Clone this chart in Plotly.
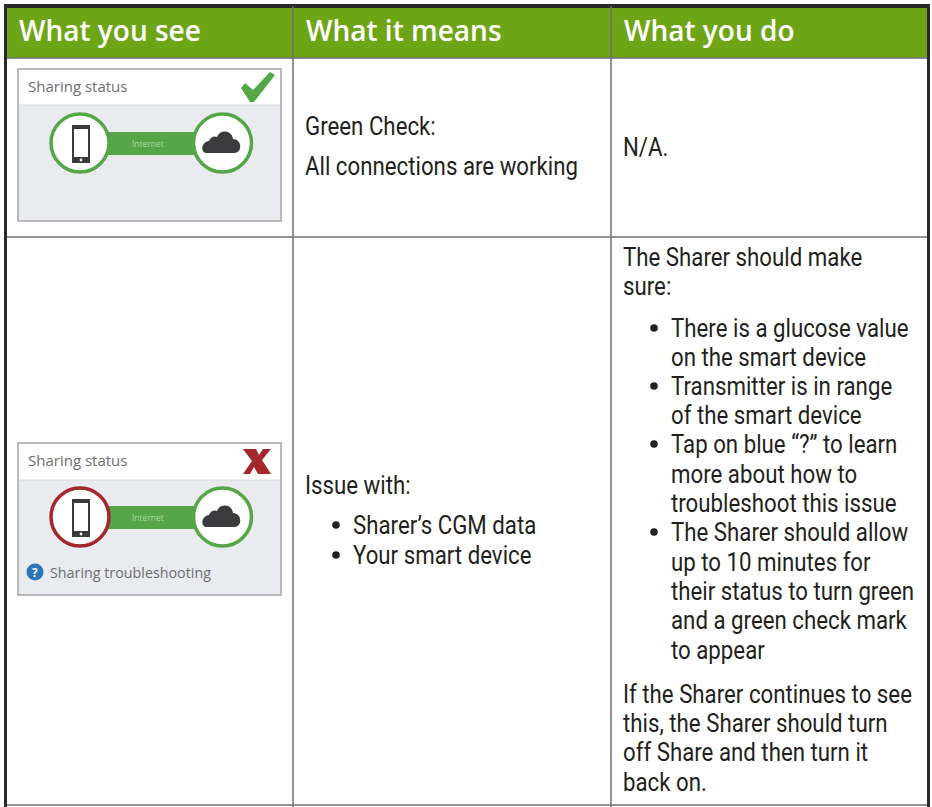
import plotly.graph_objects as go

W, H = 932, 807
HEADERS = ["What you see", "What it means", "What you do"]
HEADER_X = [17, 304, 622]
COL_LINES = [293, 611]
ROW_LINES = [58, 237, 805]

# (x, y, text)
MEANS = [(303, 126, "Green Check:"), (303, 166, "All connections are working"),
         (303, 485, "Issue with:"), (351, 525, "Sharer’s CGM data"), (351, 555, "Your smart device")]
MEANS_BULLETS = [(336, 525), (336, 555)]
DO = [(621, 147, "N/A."), (621, 257, "The Sharer should make"), (621, 286, "sure:"),
      (669, 328, "There is a glucose value"), (669, 357, "on the smart device"),
      (669, 386, "Transmitter is in range"), (669, 415, "of the smart device"),
      (669, 444, "Tap on blue “?” to learn"), (669, 474, "more about how to"),
      (669, 503, "troubleshoot this issue"), (669, 532, "The Sharer should allow"),
      (669, 562, "up to 10 minutes for"), (669, 591, "their status to turn green"),
      (669, 620, "and a green check mark"), (669, 650, "to appear"),
      (621, 694, "If the Sharer continues to see"), (621, 723, "this, the Sharer should turn"),
      (621, 752, "off Share and then turn it"), (621, 782, "back on.")]
DO_BULLETS = [(654, 328), (654, 386), (654, 444), (654, 532)]

GREEN = "#6ea516"
ICON_GREEN = "#54a646"
RED = "#a3272b"
PANEL = "#e9ebef"
INK = "#231f20"
BORDER = "#2a2829"
LINE = "#6f6f6f"
BODY = "Roboto"

shapes, ann = [], []

def rect(x0, y0, x1, y1, fill, line=None, lw=0):
    shapes.append(dict(type="rect", x0=x0, y0=y0, x1=x1, y1=y1, fillcolor=fill,
                       line=dict(color=line or fill, width=lw), layer="above"))

def circle(cx, cy, r, fill, line=None, lw=0):
    shapes.append(dict(type="circle", x0=cx-r, y0=cy-r, x1=cx+r, y1=cy+r, fillcolor=fill,
                       line=dict(color=line or fill, width=lw), layer="above"))

def path(d, fill):
    shapes.append(dict(type="path", path=d, fillcolor=fill, line=dict(width=0), layer="above"))

def text(x, y, s, size, color=INK, family=BODY, anchor="left", weight=None):
    ann.append(dict(x=x, y=y, text=s, showarrow=False, xanchor=anchor, yanchor="middle",
                    align="left", font=dict(size=size, color=color, family=family, weight=weight)))

# table frame
rect(7, 8, 927, 58, GREEN)
rect(4, 4, 930, 8, BORDER)
rect(4, 4, 7, 807, BORDER)
rect(927, 4, 930, 807, BORDER)
for x in COL_LINES:
    shapes.append(dict(type="line", x0=x, x1=x, y0=6, y1=807, line=dict(color=LINE, width=1.5), layer="above"))
for y in ROW_LINES:
    shapes.append(dict(type="line", x0=7, x1=927, y0=y, y1=y, line=dict(color=LINE, width=1.5), layer="above"))
for x, s in zip(HEADER_X, HEADERS):
    text(x, 30, s, 28, "white", "Open Sans", weight=600)

def panel(top, head_bottom, cy, ok):
    rect(18, top, 281, top+152, PANEL, "#a5a7a9", 1.5)
    rect(19, top+1, 280, head_bottom, "white")
    shapes.append(dict(type="line", x0=19, x1=280, y0=head_bottom, y1=head_bottom,
                       line=dict(color="#d8dadd", width=1), layer="above"))
    text(26, top+16.5, "Sharing status", 15, "#6d6e71", "Open Sans")
    # connector
    rect(106, cy-11, 196, cy+12, ICON_GREEN)
    text(148, cy, "Internet", 8.5, "#a9d6a0", "Open Sans", anchor="center")
    # circles
    circle(80, cy, 29, "white", ICON_GREEN if ok else RED, 3.5)
    circle(222.5, cy, 29, "white", ICON_GREEN, 3.5)
    # phone
    rect(72, cy-18, 90, cy+20, "#3a3a3c")
    rect(74, cy-14, 88, cy+14, "white")
    circle(81, cy+17, 1.4, "white")
    # cloud
    x, y = 222, cy
    path(f"M{x-15},{y+10} C{x-22},{y+10} {x-21},{y-1} {x-13},{y-2} C{x-11},{y-7} {x-7},{y-7} {x-5},{y-6} "
         f"C{x-2},{y-14} {x+10},{y-13} {x+11},{y-4} C{x+20},{y-4} {x+21},{y+10} {x+12},{y+10} Z", "#3b3b3d")

panel(69, 105, 143, True)
panel(443, 480, 517, False)

# check mark
path("M241,88 L245,83 L253,90 L270,72 L275,75 L254,102 L250,102 Z", ICON_GREEN)
# red X
path("M243,449 L256,449 L259,455 L263,449 L271,449 L262,460 L271,474 L258,474 L254,467 L250,474 L243,474 "
     "L252,461 Z", RED)
# help icon
circle(35, 572, 8.5, "#2a76b8")
text(35, 572, "?", 12, "white", "Open Sans", anchor="center", weight=700)
text(48, 572, "Sharing troubleshooting", 14.3, "#6d6e71", "Open Sans")

for x, y, s in MEANS + DO:
    text(x, y, s, 25)
for x, y in MEANS_BULLETS + DO_BULLETS:
    circle(x, y, 3.8, INK)

fig = go.Figure()
fig.update_layout(width=W, height=H, margin=dict(l=0, r=0, t=0, b=0), paper_bgcolor="white",
                  plot_bgcolor="white", showlegend=False, shapes=shapes, annotations=ann,
                  xaxis=dict(range=[0, W], visible=False, fixedrange=True),
                  yaxis=dict(range=[H, 0], visible=False, fixedrange=True))
CONDENSE = """
document.body.style.margin='0';
document.documentElement.style.overflow='hidden';
document.querySelectorAll('text.annotation-text').forEach(function(t){
  if((t.style.fontFamily||'').indexOf('Roboto')>=0){
    t.setAttribute('textLength', t.getComputedTextLength()*0.89);
    t.setAttribute('lengthAdjust','spacingAndGlyphs');
    var g=t.closest('.annotation');
    if(g){g.querySelectorAll('rect').forEach(function(r){
      r.setAttribute('width', parseFloat(r.getAttribute('width'))*0.89);
    });}
  }
});
"""
fig.write_html("out.html", config=dict(displayModeBar=False), post_script=CONDENSE)
